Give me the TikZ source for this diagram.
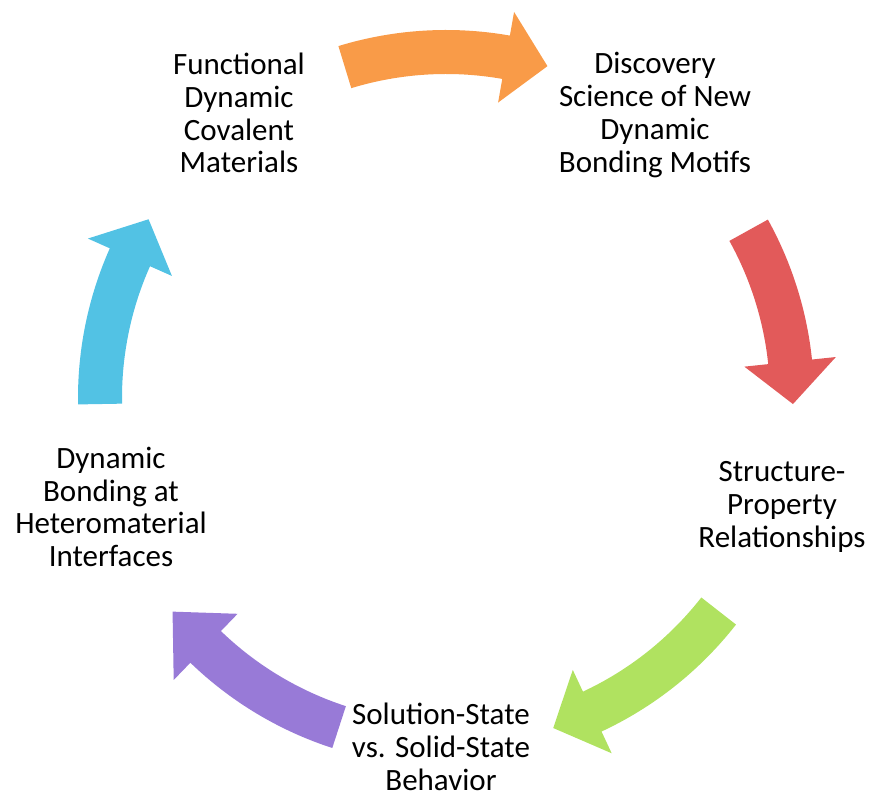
\documentclass[tikz,border=0pt]{standalone}
\usepackage{fontspec}
\setmainfont{Carlito}
\usepackage{tikz}
\definecolor{arrorange}{RGB}{249,155,72}
\definecolor{arrred}{RGB}{226,90,90}
\definecolor{arrgreen}{RGB}{176,226,96}
\definecolor{arrpurple}{RGB}{152,122,215}
\definecolor{arrblue}{RGB}{82,194,228}
\begin{document}
\begin{tikzpicture}[x=0.5pt, y=0.5pt,
  stage/.style={align=center, inner sep=0pt, text=black,
    font=\fontsize{15.5}{16.4}\selectfont}]
  \useasboundingbox (0,0) rectangle (871,798);
  \coordinate (c) at (446,400);
  % cycle arrows (centre line radius 346)
  \fill[arrorange, shift={(c)}] (107:368) arc[start angle=107, end angle=80, radius=368]
    -- (80:392) -- (73:347) -- (80:300) -- (80:324)
    arc[start angle=80, end angle=107, radius=324] -- cycle;
  \fill[arrred, shift={(c)}] (29:368) arc[start angle=29, end angle=6, radius=368]
    -- (6:392) -- (-1:347) -- (6:300) -- (6:324)
    arc[start angle=6, end angle=29, radius=324] -- cycle;
  \fill[arrgreen, shift={(c)}] (-38:368) arc[start angle=-38, end angle=-65, radius=368]
    -- (-65:392) -- (-72:347) -- (-65:300) -- (-65:324)
    arc[start angle=-65, end angle=-38, radius=324] -- cycle;
  \fill[arrpurple, shift={(c)}] (-108:368) arc[start angle=-108, end angle=-134, radius=368]
    -- (-134:392) -- (-142:347) -- (-134:300) -- (-134:324)
    arc[start angle=-134, end angle=-108, radius=324] -- cycle;
  \fill[arrblue, shift={(c)}] (181:368) arc[start angle=181, end angle=156, radius=368]
    -- (156:392) -- (149:347) -- (156:300) -- (156:324)
    arc[start angle=156, end angle=181, radius=324] -- cycle;
  % stages
  \node[stage] (functional) at (239,685) {Functional\\Dynamic\\Covalent\\Materials};
  \node[stage] (discovery) at (655,683) {Discovery\\Science of New\\Dynamic\\Bonding Motifs};
  \node[stage] (structure) at (782,291) {Structure-\\Property\\Relationships};
  \node[stage] (solution) at (441,51) {Solution-State\\vs. Solid-State\\Behavior};
  \node[stage] (interfaces) at (111,291) {Dynamic\\Bonding at\\Heteromaterial\\Interfaces};
\end{tikzpicture}
\end{document}
